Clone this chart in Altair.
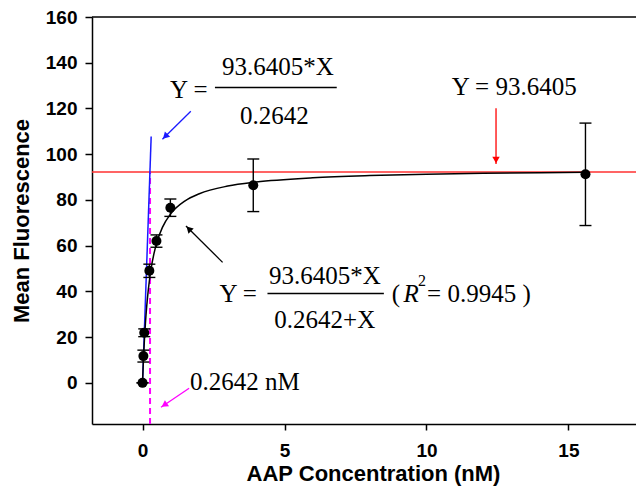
import math
import altair as alt
import pandas as pd

# ---------------- data ----------------
conc = [0.0, 0.03, 0.06, 0.24, 0.49, 0.98, 3.9, 15.6]
fluor = [0.0, 11.7, 21.9, 49.0, 62.0, 76.6, 86.4, 91.2]
err = [0.0, 2.6, 1.7, 2.9, 2.7, 3.8, 11.5, 22.4]

fit_x = [0, 0.02, 0.05, 0.1, 0.15, 0.2, 0.3, 0.4, 0.5, 0.7, 1.0, 1.5, 2, 3, 4, 6, 8, 10, 12, 14, 15.6]
fit_y = [0, 6.59, 14.90, 25.71, 33.91, 40.34, 49.79, 56.39, 61.27, 67.98, 74.07, 79.62,
         82.71, 86.06, 87.84, 89.69, 90.65, 91.23, 91.62, 91.91, 92.08]

vmax_line = 92.2          # red horizontal line level as drawn
km = 0.2642               # magenta dashed line
slope_x = [0.0, 0.304]    # blue initial-slope line
slope_y = [0.0, 107.7]

x_ticks = [0, 5, 10, 15]
y_ticks = [0, 20, 40, 60, 80, 100, 120, 140, 160]
XDOM = [-1.78, 17.38]
YDOM = [-18, 160]
W, H = 544, 407
PXX = W / (XDOM[1] - XDOM[0])
PXY = H / (YDOM[1] - YDOM[0])

# ---------------- tables ----------------
pts = pd.DataFrame({"x": conc, "y": fluor, "lo": [a - b for a, b in zip(fluor, err)],
                    "hi": [a + b for a, b in zip(fluor, err)]})
fit = pd.DataFrame({"x": fit_x, "y": fit_y})
slope = pd.DataFrame({"x": slope_x, "y": slope_y})

SANS = "Liberation Sans"
axis_style = dict(grid=False, domainColor="black", domainWidth=1.5, tickColor="black",
                  tickWidth=1.5, labelFont=SANS, labelFontWeight="bold", labelFontSize=19,
                  labelColor="black", titleFont=SANS, titleFontWeight="bold",
                  titleFontSize=22, titleColor="black")

xs = alt.Scale(domain=XDOM, nice=False, zero=False)
ys = alt.Scale(domain=YDOM, nice=False, zero=False)
xaxis = alt.Axis(values=x_ticks, title="AAP Concentration (nM)", labelPadding=11,
                 titlePadding=3, titleX=281, tickSize=6, **axis_style)
yaxis = alt.Axis(values=y_ticks, title="Mean Fluorescence", labelPadding=8,
                 titlePadding=12, tickSize=7, **axis_style)


def X(f="x"):
    return alt.X(f, type="quantitative", scale=xs, axis=xaxis)


def Y(f="y"):
    return alt.Y(f, type="quantitative", scale=ys, axis=yaxis)


# frame line (top border) and reference lines
frame = pd.DataFrame({"x": [XDOM[0]], "x2": [XDOM[1]], "y": [160]})
top = alt.Chart(frame).mark_rule(color="black", strokeWidth=1.5).encode(
    x=X(), x2="x2", y=Y())

red = alt.Chart(pd.DataFrame({"x": [XDOM[0]], "x2": [XDOM[1]], "y": [vmax_line]})).mark_rule(
    color="#ff3030", strokeWidth=1.5).encode(x=X(), x2="x2", y=Y())

mag = alt.Chart(pd.DataFrame({"x": [km], "y": [YDOM[0]], "y2": [vmax_line]})).mark_rule(
    color="#ff00ff", strokeWidth=2, strokeDash=[6, 4]).encode(x=X(), y=Y(), y2="y2")

blue = alt.Chart(slope).mark_line(color="#1a1aff", strokeWidth=1.5).encode(x=X(), y=Y())

curve = alt.Chart(fit).mark_line(color="black", strokeWidth=1.5, interpolate="monotone").encode(
    x=X(), y=Y())

ebar = alt.Chart(pts).mark_rule(color="black", strokeWidth=1.4).encode(x=X(), y=Y("lo"), y2="hi")
cap_lo = alt.Chart(pts).mark_rule(color="black", strokeWidth=1.4, xOffset=-6, x2Offset=6).encode(
    x=X(), x2="x", y=Y("lo"))
cap_hi = alt.Chart(pts).mark_rule(color="black", strokeWidth=1.4, xOffset=-6, x2Offset=6).encode(
    x=X(), x2="x", y=Y("hi"))
dots = alt.Chart(pts).mark_point(filled=True, color="black", size=100, opacity=1).encode(
    x=X(), y=Y())

# ---------------- arrows ----------------
arrow_tail_x = [1.70, 1.64, 2.82, 12.45]
arrow_tail_y = [118.8, -2.4, 52.7, 120.1]
arrow_tip_x = [0.70, 0.65, 1.53, 12.45]
arrow_tip_y = [106.5, -10.7, 68.6, 95.7]
arrow_color = ["#1a1aff", "#ff00ff", "black", "#ff0000"]
arrow_angle = [225, 236, 315, 180]

head_x, head_y = [], []
for tx, ty, a in zip(arrow_tip_x, arrow_tip_y, arrow_angle):
    ux, uy = math.sin(math.radians(a)), -math.cos(math.radians(a))
    head_x.append(tx - 4 * ux / PXX)
    head_y.append(ty + 4 * uy / PXY)

arr = pd.DataFrame({"x": arrow_tail_x, "y": arrow_tail_y, "x2": arrow_tip_x, "y2": arrow_tip_y,
                    "c": arrow_color, "hx": head_x, "hy": head_y, "a": arrow_angle})
shafts = alt.Chart(arr).mark_rule(strokeWidth=1.3).encode(
    x=X(), y=Y(), x2="x2", y2="y2", color=alt.Color("c:N", scale=None))
heads = alt.Chart(arr).mark_point(shape="triangle-up", filled=True, size=55, opacity=1).encode(
    x=X("hx"), y=Y("hy"), color=alt.Color("c:N", scale=None), angle=alt.Angle("a:Q", scale=None))

# ---------------- annotation text ----------------
SERIF = "Liberation Serif"
left_txt = pd.DataFrame({
    "x": [0.97, 10.89, 2.71, 8.78, 10.02, 1.67],
    "y": [124.4, 125.9, 35.5, 35.5, 35.5, -3.1],
    "t": ["Y =", "Y = 93.6405", "Y =", "(", "= 0.9945 )", "0.2642 nM"],
})
center_txt = pd.DataFrame({
    "x": [4.77, 4.64, 6.42, 6.42],
    "y": [134.6, 113.2, 43.1, 24.0],
    "t": ["93.6405*X", "0.2642", "93.6405*X", "0.2642+X"],
})
bars = pd.DataFrame({"x": [2.55, 4.40], "x2": [6.84, 8.50], "y": [129.2, 39.1]})

t_left = alt.Chart(left_txt).mark_text(font=SERIF, fontSize=25, align="left", baseline="alphabetic",
                                       color="black").encode(x=X(), y=Y(), text="t")
t_center = alt.Chart(center_txt).mark_text(font=SERIF, fontSize=25, align="center",
                                           baseline="alphabetic", color="black").encode(
    x=X(), y=Y(), text="t")
t_r = alt.Chart(pd.DataFrame({"x": [9.19], "y": [35.5], "t": ["R"]})).mark_text(
    font=SERIF, fontSize=25, fontStyle="italic", align="left", baseline="alphabetic",
    color="black").encode(x=X(), y=Y(), text="t")
t_sup = alt.Chart(pd.DataFrame({"x": [9.70], "y": [42.3], "t": ["2"]})).mark_text(
    font=SERIF, fontSize=16, align="left", baseline="alphabetic", color="black").encode(
    x=X(), y=Y(), text="t")
frac = alt.Chart(bars).mark_rule(color="black", strokeWidth=1.5).encode(x=X(), x2="x2", y=Y())

chart = alt.layer(
    top, red, mag, blue, curve, ebar, cap_lo, cap_hi, dots, shafts, heads,
    frac, t_left, t_center, t_r, t_sup,
).properties(
    width=W, height=H,
    autosize=alt.AutoSizeParams(type="none"),
    padding={"left": 84, "top": 9, "right": 0, "bottom": 65},
).configure_view(stroke=None)

chart.save("out.html", embed_options={"renderer": "svg", "actions": False})
